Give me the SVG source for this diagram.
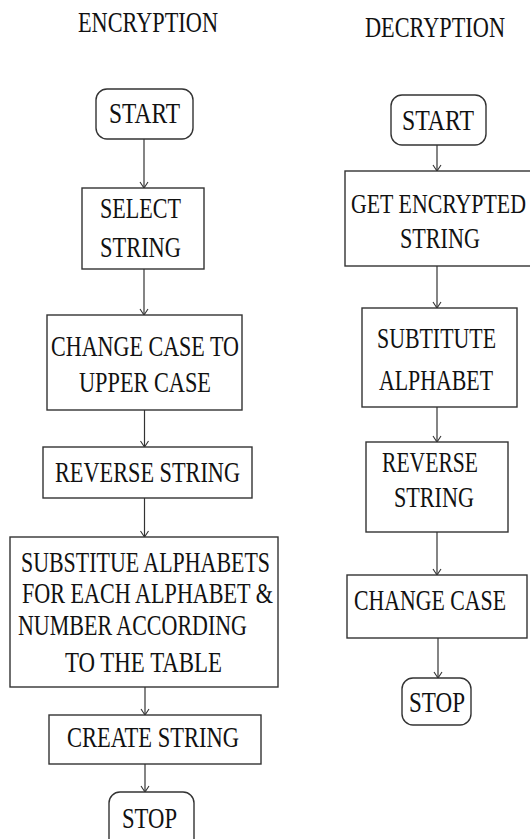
<svg xmlns="http://www.w3.org/2000/svg" width="530" height="839" viewBox="0 0 530 839">
<style>
  .box { fill: #ffffff; stroke: #333333; stroke-width: 1.4; }
  text { font-family: "Liberation Serif", "Times New Roman", serif; font-size: 22.5px; fill: #111111; }
  .c line { stroke: #333333; stroke-width: 1.2; fill: none; marker-end: url(#arr); }
</style>
<defs>
  <marker id="arr" markerUnits="userSpaceOnUse" viewBox="0 0 8 10" refX="7" refY="5" markerWidth="8" markerHeight="10" orient="auto">
    <path d="M1,1 L7,5 L1,9" fill="none" stroke="#333333" stroke-width="1.1"/>
  </marker>
</defs>
<rect width="530" height="839" fill="#ffffff"/>

<g id="title-enc"><text transform="scale(1,1.3)" x="78" y="24.62" textLength="140" lengthAdjust="spacingAndGlyphs">ENCRYPTION</text></g>
<g id="title-dec"><text transform="scale(1,1.3)" x="365" y="28.46" textLength="140" lengthAdjust="spacingAndGlyphs">DECRYPTION</text></g>

<g class="c" id="connectors">
  <line x1="144" y1="139" x2="144" y2="188"/>
  <line x1="144" y1="269" x2="144" y2="315"/>
  <line x1="144.5" y1="410" x2="144.5" y2="447"/>
  <line x1="144.5" y1="498" x2="144.5" y2="537"/>
  <line x1="145" y1="687" x2="145" y2="715"/>
  <line x1="145" y1="764" x2="145" y2="792"/>
  <line x1="437" y1="145" x2="437" y2="171"/>
  <line x1="437" y1="266" x2="437" y2="308"/>
  <line x1="437" y1="407" x2="437" y2="442"/>
  <line x1="437" y1="532" x2="437" y2="575"/>
  <line x1="438" y1="638" x2="438" y2="678"/>
</g>

<g id="enc-start"><rect class="box" x="96" y="89" width="97" height="50" rx="11"/>
  <text transform="scale(1,1.3)" x="109" y="94.62" textLength="71" lengthAdjust="spacingAndGlyphs">START</text></g>
<g id="enc-select"><rect class="box" x="82" y="188" width="122" height="81"/>
  <text transform="scale(1,1.3)" x="100" y="167.69" textLength="81" lengthAdjust="spacingAndGlyphs">SELECT</text>
  <text transform="scale(1,1.3)" x="100" y="197.69" textLength="81" lengthAdjust="spacingAndGlyphs">STRING</text></g>
<g id="enc-change"><rect class="box" x="47" y="315" width="195" height="95"/>
  <text transform="scale(1,1.3)" x="51" y="273.85" textLength="188" lengthAdjust="spacingAndGlyphs">CHANGE CASE TO</text>
  <text transform="scale(1,1.3)" x="79" y="301.54" textLength="132" lengthAdjust="spacingAndGlyphs">UPPER CASE</text></g>
<g id="enc-reverse"><rect class="box" x="43" y="447" width="209" height="51"/>
  <text transform="scale(1,1.3)" x="55" y="370.77" textLength="185" lengthAdjust="spacingAndGlyphs">REVERSE STRING</text></g>
<g id="enc-subst"><rect class="box" x="10" y="537" width="268" height="150"/>
  <text transform="scale(1,1.3)" x="21" y="440" textLength="249" lengthAdjust="spacingAndGlyphs">SUBSTITUE ALPHABETS</text>
  <text transform="scale(1,1.3)" x="22" y="463.85" textLength="251" lengthAdjust="spacingAndGlyphs">FOR EACH ALPHABET &amp;</text>
  <text transform="scale(1,1.3)" x="18" y="488.46" textLength="229" lengthAdjust="spacingAndGlyphs">NUMBER ACCORDING</text>
  <text transform="scale(1,1.3)" x="65" y="516.92" textLength="157" lengthAdjust="spacingAndGlyphs">TO THE TABLE</text></g>
<g id="enc-create"><rect class="box" x="49" y="715" width="212" height="49"/>
  <text transform="scale(1,1.3)" x="67" y="574.62" textLength="172" lengthAdjust="spacingAndGlyphs">CREATE STRING</text></g>
<g id="enc-stop"><rect class="box" x="109" y="792" width="85" height="62" rx="11"/>
  <text transform="scale(1,1.3)" x="122" y="636.92" textLength="55" lengthAdjust="spacingAndGlyphs">STOP</text></g>

<g id="dec-start"><rect class="box" x="391" y="95" width="95" height="50" rx="11"/>
  <text transform="scale(1,1.3)" x="402" y="100" textLength="72" lengthAdjust="spacingAndGlyphs">START</text></g>
<g id="dec-get"><rect class="box" x="345" y="171" width="190" height="95"/>
  <text transform="scale(1,1.3)" x="351" y="163.85" font-size="21.5" style="font-size:21.5px" textLength="175" lengthAdjust="spacingAndGlyphs">GET ENCRYPTED</text>
  <text transform="scale(1,1.3)" x="400" y="190.77" textLength="80" lengthAdjust="spacingAndGlyphs">STRING</text></g>
<g id="dec-subst"><rect class="box" x="362" y="308" width="155" height="99"/>
  <text transform="scale(1,1.3)" x="377" y="267.69" textLength="119" lengthAdjust="spacingAndGlyphs">SUBTITUTE</text>
  <text transform="scale(1,1.3)" x="379" y="300" textLength="114" lengthAdjust="spacingAndGlyphs">ALPHABET</text></g>
<g id="dec-reverse"><rect class="box" x="366" y="442" width="142" height="90"/>
  <text transform="scale(1,1.3)" x="382" y="363.08" textLength="96" lengthAdjust="spacingAndGlyphs">REVERSE</text>
  <text transform="scale(1,1.3)" x="394" y="390" textLength="80" lengthAdjust="spacingAndGlyphs">STRING</text></g>
<g id="dec-change"><rect class="box" x="347" y="575" width="180" height="63"/>
  <text transform="scale(1,1.3)" x="354" y="469.23" textLength="152" lengthAdjust="spacingAndGlyphs">CHANGE CASE</text></g>
<g id="dec-stop"><rect class="box" x="402" y="678" width="69" height="47" rx="11"/>
  <text transform="scale(1,1.3)" x="409" y="547.69" textLength="56" lengthAdjust="spacingAndGlyphs">STOP</text></g>
</svg>
